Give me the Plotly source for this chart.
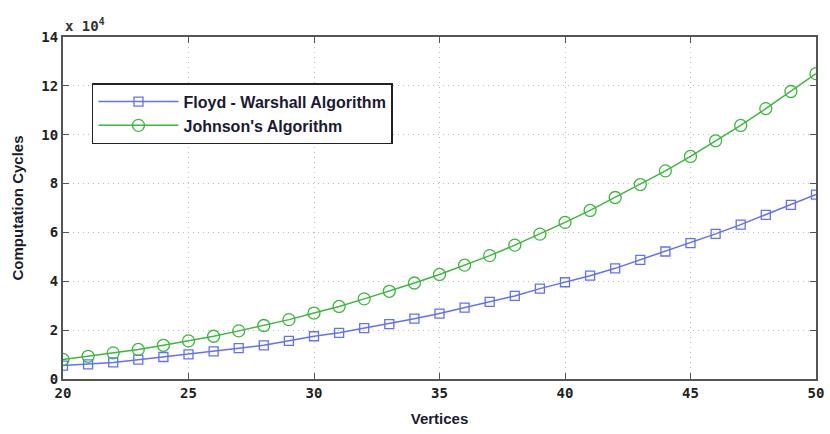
import plotly.graph_objects as go

# Number of vertices in the test graphs
vertices = list(range(20, 51))

# Measured computation cycles for each algorithm
floyd_warshall_cycles = [
    5500, 6000, 6800, 7900, 9000, 10100, 11300, 12600, 13800, 15600,
    17500, 18900, 20800, 22500, 24700, 26800, 29200, 31600, 34000, 37000,
    39600, 42300, 45300, 48800, 52200, 55600, 59400, 63200, 67200, 71300,
    75500,
]
johnson_cycles = [
    8000, 9300, 10700, 12100, 13800, 15600, 17500, 19700, 21900, 24300,
    27000, 29700, 32800, 35900, 39300, 42800, 46600, 50500, 54800, 59300,
    64100, 69000, 74300, 79600, 85200, 91100, 97500, 103800, 110700, 117700,
    125000,
]

# y axis is shown in units of 10^4
Y_SCALE = 1e4
y_ticks = [0, 2, 4, 6, 8, 10, 12, 14]
x_ticks = [20, 25, 30, 35, 40, 45, 50]

tick_font = dict(family="DejaVu Sans Mono", size=14, color="#222222", weight="bold")
label_font = dict(family="Liberation Sans", size=15, color="#1a1a33", weight="bold")

fig = go.Figure()

fig.add_trace(go.Scatter(
    x=vertices,
    y=[v / Y_SCALE for v in floyd_warshall_cycles],
    mode="lines+markers",
    name="Floyd - Warshall Algorithm",
    line=dict(color="#6270ff", width=1.5),
    marker=dict(symbol="square-open", size=9, color="#6270ff", line=dict(width=1.3)),
))

fig.add_trace(go.Scatter(
    x=vertices,
    y=[v / Y_SCALE for v in johnson_cycles],
    mode="lines+markers",
    name="Johnson's Algorithm",
    line=dict(color="#3cb83c", width=1.5),
    marker=dict(symbol="circle-open", size=12, color="#3cb83c", line=dict(width=1.3)),
))

axis_common = dict(
    showline=True,
    linecolor="#555555",
    linewidth=2,
    mirror="ticks",
    ticks="inside",
    ticklen=6,
    tickcolor="#555555",
    tickwidth=1,
    showgrid=True,
    gridcolor="#bdbdbd",
    griddash="1px,4px",
    gridwidth=1,
    zeroline=False,
    tickfont=tick_font,
    automargin=False,
)

fig.update_xaxes(
    range=[20, 50],
    tickvals=x_ticks,
    ticktext=[str(t) for t in x_ticks],
    title=dict(text="Vertices", font=label_font, standoff=14),
    **axis_common,
)
fig.update_yaxes(
    range=[0, 14],
    tickvals=y_ticks,
    ticktext=[str(t) for t in y_ticks],
    title=dict(text="Computation Cycles", font=label_font, standoff=14),
    **axis_common,
)

# Exponent label for the y axis
fig.add_annotation(
    text="x 10<sup>4</sup>",
    xref="paper", yref="paper",
    x=0, y=1, xanchor="left", yanchor="bottom",
    yshift=1,
    showarrow=False,
    font=dict(family="DejaVu Sans Mono", size=14, color="#333333", weight="bold"),
)

fig.update_layout(
    width=830,
    height=434,
    margin=dict(l=63, r=14, t=37, b=55),
    paper_bgcolor="white",
    plot_bgcolor="white",
    legend=dict(
        x=0.0385, y=0.865,
        xanchor="left", yanchor="top",
        bgcolor="white",
        bordercolor="#222222",
        borderwidth=1.5,
        font=dict(family="Liberation Sans", size=16, color="#1a1a33", weight="bold"),
        itemwidth=80,
        tracegroupgap=6,
    ),
    showlegend=True,
)

fig.write_html("out.html")
